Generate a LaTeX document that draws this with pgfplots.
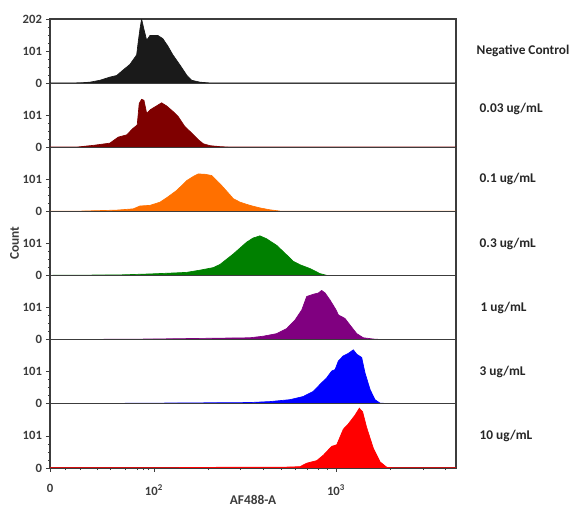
\documentclass[border=0pt]{standalone}
\usepackage{pgfplots}
\pgfplotsset{compat=1.18}
\usepackage{fontspec}
\setmainfont{Carlito}

\definecolor{cneg}{HTML}{1A1A1A}
\definecolor{cA}{HTML}{7F0000}
\definecolor{cB}{HTML}{FF7000}
\definecolor{cC}{HTML}{008000}
\definecolor{cD}{HTML}{800080}
\definecolor{cE}{HTML}{0000FF}
\definecolor{cF}{HTML}{FF0000}
\definecolor{frame}{HTML}{3C3C3C}

% x is in display units: 10^2 -> 2, 10^3 -> 3, the left edge is the "0" of the biexponential scale
\pgfplotstableread{
x y
1.429 0.6
1.593 1
1.648 3
1.703 9
1.758 19
1.795 24
1.830 41
1.868 59
1.905 89
1.914 132
1.923 170
1.932 202
1.945 170
1.960 135
1.978 150
2.022 150
2.049 140
2.077 116
2.104 89
2.143 57
2.180 25
2.207 9
2.253 3
2.308 0.6
3.659 0.6
}\negctrl
\pgfplotstableread{
x y
1.429 0.6
1.575 0.6
1.666 6
1.758 13
1.804 32
1.850 39
1.886 60
1.908 70
1.919 138
1.932 151
1.945 148
1.960 107
1.982 119
2.005 127
2.042 140
2.070 130
2.106 112
2.134 96
2.170 65
2.207 45
2.243 24
2.271 11
2.308 5
2.363 2
2.418 0.6
3.659 0.6
}\dA
\pgfplotstableread{
x y
1.429 0.6
1.575 0.6
1.666 2
1.795 4
1.886 8
1.923 17
1.978 19
2.033 29
2.070 43
2.125 66
2.180 97
2.216 110
2.243 118
2.280 117
2.317 113
2.363 87
2.399 64
2.436 40
2.473 29
2.527 19
2.582 11
2.637 5
2.692 1
2.729 0.6
3.659 0.6
}\dB
\pgfplotstableread{
x y
1.429 0.6
1.813 2
1.978 5
2.106 8
2.180 10
2.253 17
2.326 25
2.363 35
2.436 68
2.509 105
2.544 118
2.582 125
2.618 116
2.674 95
2.720 70
2.765 45
2.802 34
2.857 22
2.912 6
2.949 0.6
3.659 0.6
}\dC
\pgfplotstableread{
x y
1.429 0.6
1.703 1
1.978 2
2.253 4
2.527 6
2.601 11
2.674 19
2.729 35
2.775 62
2.812 94
2.839 136
2.875 143
2.903 147
2.921 155
2.940 147
2.967 125
3.000 94
3.013 78
3.049 67
3.077 46
3.114 19
3.150 6
3.205 2
3.242 0.6
3.659 0.6
}\dD
\pgfplotstableread{
x y
1.429 0.6
1.703 1
1.978 2
2.253 3
2.527 4
2.637 7
2.747 13
2.820 23
2.875 39
2.912 61
2.949 82
2.976 103
2.995 108
3.013 135
3.040 151
3.068 159
3.095 170
3.114 156
3.141 146
3.159 98
3.187 45
3.214 13
3.242 2
3.297 0.6
3.659 0.6
}\dE
\pgfplotstableread{
x y
1.429 0.6
2.104 1
2.363 2
2.692 2
2.802 4
2.839 15
2.894 23
2.930 40
2.976 68
3.004 73
3.040 122
3.068 139
3.104 166
3.128 188
3.146 177
3.168 128
3.205 62
3.242 19
3.279 2
3.315 0.6
3.659 0.6
}\dF

\pgfplotsset{
  panel/.style={
    scale only axis, width=304.5pt, height=48.1pt,
    anchor=north west,
    xmin=1.429, xmax=3.659, ymin=0, ymax=202,
    xtick=\empty,
    ytick={0,101},
    minor y tick num=3,
    ytick pos=left,
    tick align=outside,
    major tick length=3pt, minor tick length=1.6pt,
    axis line style={frame, line width=0.9pt},
    tick style={frame, line width=0.5pt},
    /pgf/number format/assume math mode=true,
    ticklabel style={font=\fontsize{9.5}{11}\selectfont\bfseries, text=frame},
    yticklabel style={xshift=0.5pt},
  },
  hist/.style={fill=#1, draw=#1, line width=0.5pt},
}

\begin{document}
\begin{tikzpicture}
\begin{axis}[panel, name=p1, at={(0,0)}, ytick={0,101,202}]
  \addplot[hist=cneg] table {\negctrl} \closedcycle;
\end{axis}
\begin{axis}[panel, name=p2, at={(0,-48.1pt)}]
  \addplot[hist=cA] table {\dA} \closedcycle;
\end{axis}
\begin{axis}[panel, name=p3, at={(0,-96.2pt)}]
  \addplot[hist=cB] table {\dB} \closedcycle;
\end{axis}
\begin{axis}[panel, name=p4, at={(0,-144.3pt)}]
  \addplot[hist=cC] table {\dC} \closedcycle;
\end{axis}
\begin{axis}[panel, name=p5, at={(0,-192.4pt)}]
  \addplot[hist=cD] table {\dD} \closedcycle;
\end{axis}
\begin{axis}[panel, name=p6, at={(0,-240.5pt)}]
  \addplot[hist=cE] table {\dE} \closedcycle;
\end{axis}
\begin{axis}[panel, name=p7, at={(0,-288.6pt)},
    xtick={1.429,2,3},
    xticklabels={0,10\textsuperscript{2},10\textsuperscript{3}},
    xtick pos=bottom,
    minor xtick={1.511,1.593,1.687,1.758,1.841,1.907,1.940,1.967,
      2.301,2.477,2.602,2.699,2.778,2.845,2.903,2.954,3.301,3.477,3.602},
    xticklabel style={yshift=-6pt},
    xlabel={AF488-A},
    xlabel style={font=\fontsize{10}{12}\selectfont\bfseries, text=frame, yshift=7pt}]
  \addplot[hist=cF] table {\dF} \closedcycle;
\end{axis}

\node[rotate=90, font=\fontsize{10}{12}\selectfont\bfseries, text=frame]
  at ([xshift=-26.5pt]p4.west) {Count};

\begin{scope}[every node/.style={anchor=west, font=\fontsize{10}{12}\selectfont\bfseries, text=black!85}]
\node at ([xshift=12pt]p1.east) {Negative Control};
\node at ([xshift=14.25pt, yshift=5pt]p2.east) {0.03 ug/mL};
\node at ([xshift=14.25pt]p3.east) {0.1 ug/mL};
\node at ([xshift=14.25pt]p4.east) {0.3 ug/mL};
\node at ([xshift=15pt]p5.east) {1 ug/mL};
\node at ([xshift=14.25pt]p6.east) {3 ug/mL};
\node at ([xshift=14.25pt]p7.east) {10 ug/mL};
\end{scope}

\pgfresetboundingbox
\path[use as bounding box] ([xshift=-37.5pt, yshift=14.25pt]p1.north west)
  rectangle ([xshift=396pt, yshift=-366.75pt]p1.north west);
\end{tikzpicture}
\end{document}
